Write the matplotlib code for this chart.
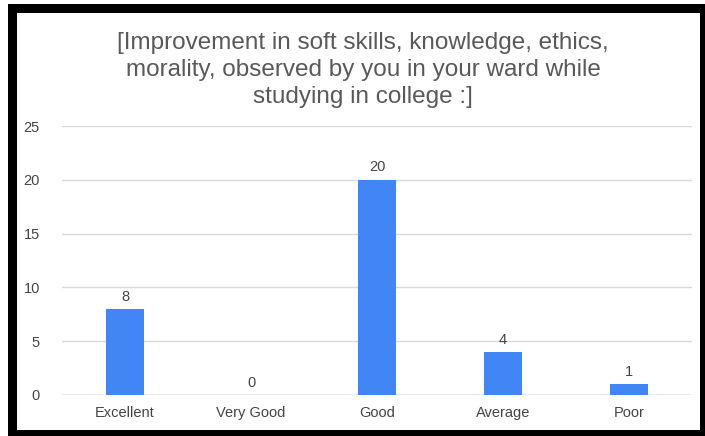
import matplotlib.pyplot as plt
from matplotlib.patches import Rectangle

categories = ["Excellent", "Very Good", "Good", "Average", "Poor"]
counts = [8, 0, 20, 4, 1]
yticks = [0, 5, 10, 15, 20, 25]
title = ("[Improvement in soft skills, knowledge, ethics,\n"
         "morality, observed by you in your ward while\n"
         "studying in college :]")

plt.rcParams["font.family"] = ["Liberation Sans", "DejaVu Sans"]

fig = plt.figure(figsize=(7.05, 4.36), dpi=100)
W, H = 705, 436

# black frame around the chart, like the screenshot
fig.patches.append(Rectangle((8 / W, 0), 697 / W, 1 - 4 / H, transform=fig.transFigure,
                             facecolor="black", edgecolor="none", zorder=-2))
fig.patches.append(Rectangle((17 / W, 6 / H), 683 / W, 1 - 19 / H, transform=fig.transFigure,
                             facecolor="white", edgecolor="none", zorder=-1))

ax = fig.add_axes([62 / W, 1 - 395 / H, 630 / W, 269 / H])
ax.set_facecolor("none")
x = range(len(categories))
ax.bar(x, counts, width=0.3, color="#4285f4", zorder=3)
for i, v in zip(x, counts):
    ax.text(i, v + 0.5, str(v), ha="center", va="bottom", fontsize=10.5, color="#444444")

ax.set_xlim(-0.5, len(categories) - 0.5)
ax.set_ylim(0, 25)
ax.set_yticks(yticks)
ax.set_xticks(list(x))
ax.set_xticklabels(categories)
ax.grid(axis="y", color="#d9d9d9", linewidth=1, zorder=0)
ax.tick_params(length=0, labelsize=10.5, labelcolor="#444444")
ax.tick_params(axis="y", pad=16)
ax.tick_params(axis="x", pad=8)
for s in ax.spines.values():
    s.set_visible(False)
ax.axhline(0, color="#bdbdbd", linewidth=1, zorder=2)

fig.text(363 / W, 1 - 70 / H, title, ha="center", va="center", fontsize=17.5,
         color="#595959", linespacing=1.27)

fig.savefig("out.png", dpi=100)
